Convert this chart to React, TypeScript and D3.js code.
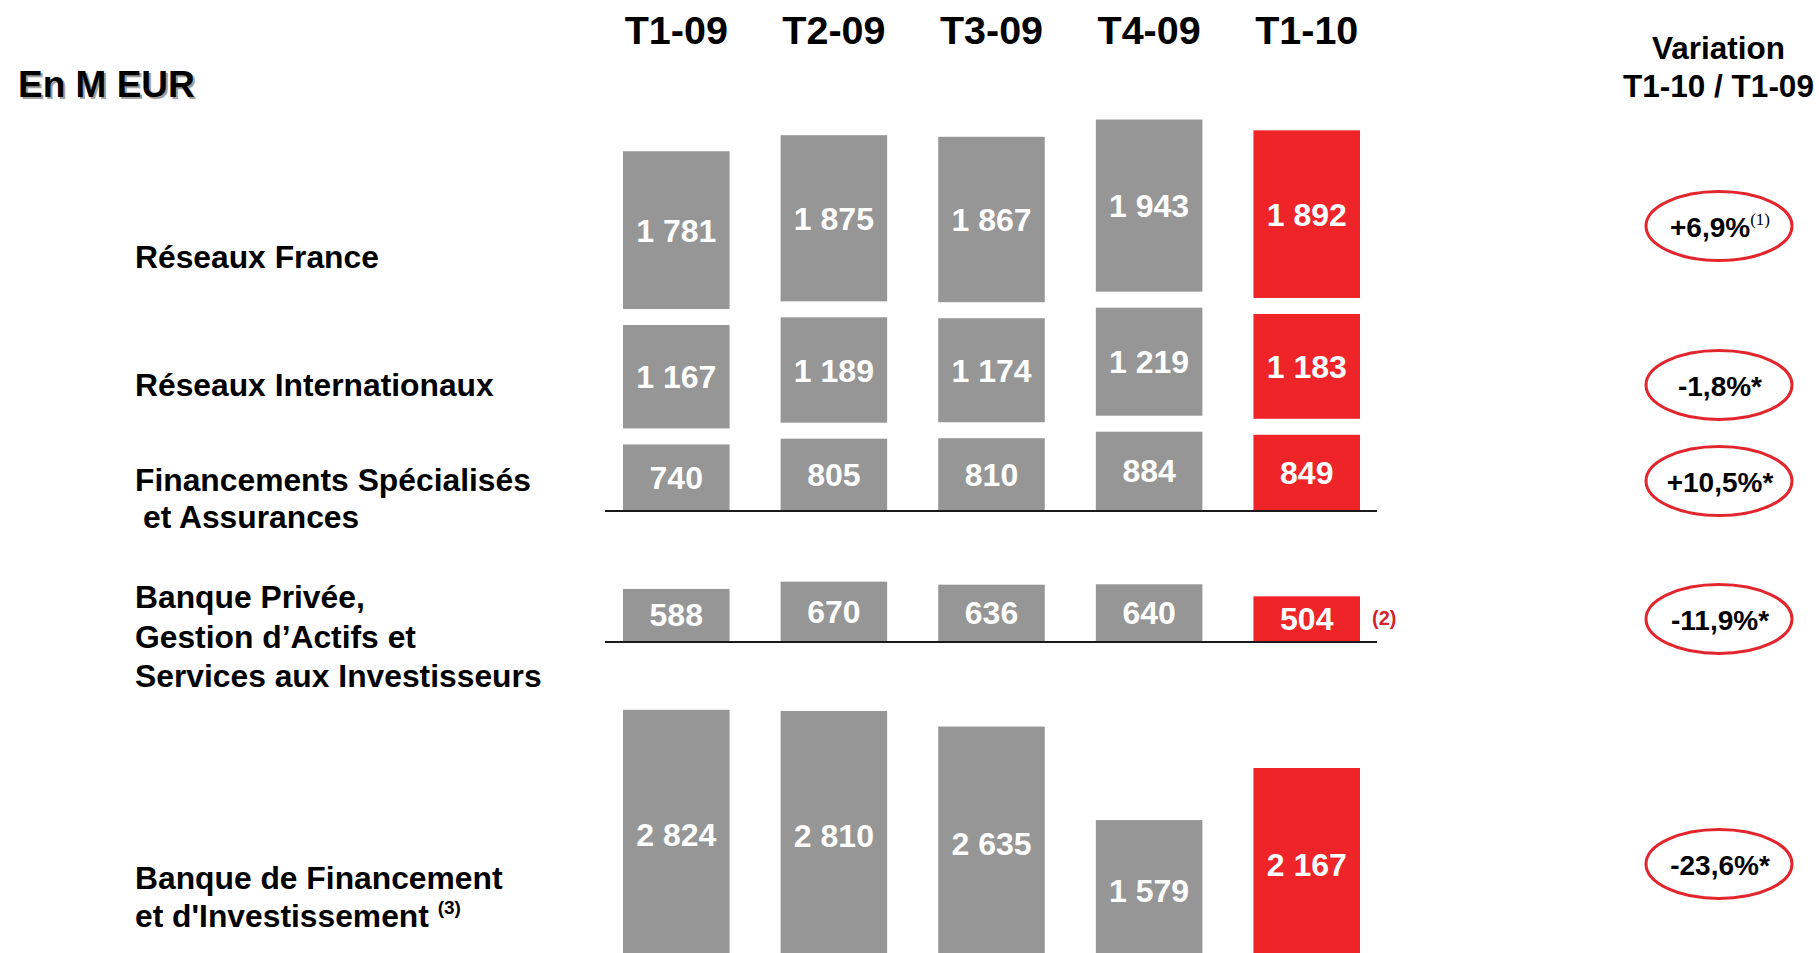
import React from "react";
import * as d3 from "d3";

const quarters = ["T1-09", "T2-09", "T3-09", "T4-09", "T1-10"];
const reseauxFrance = [1781, 1875, 1867, 1943, 1892];
const reseauxInternationaux = [1167, 1189, 1174, 1219, 1183];
const financementsSpecialises = [740, 805, 810, 884, 849];
const banquePrivee = [588, 670, 636, 640, 504];
const bfi = [2824, 2810, 2635, 1579, 2167];
const variations = ["+6,9%", "-1,8%*", "+10,5%*", "-11,9%*", "-23,6%*"];
const variationNotes = ["(1)", "", "", "", ""];

const W = 1819;
const H = 953;
const FONT = "'Liberation Sans', Arial, Helvetica, sans-serif";
const GRAY = "#969696";
const RED = "#ee2429";
const LABEL_FS = 31.8;

const fmt = (v: number) => {
  const s = String(v);
  return s.length > 3 ? s.slice(0, s.length - 3) + " " + s.slice(s.length - 3) : s;
};

export default function App() {
  const x = d3
    .scaleBand<string>()
    .domain(quarters)
    .range([623, 1360])
    .paddingInner(0.324)
    .paddingOuter(0);
  const h = d3.scaleLinear().domain([0, 1000]).range([0, 88.6]);
  const gap = 16;

  const base1 = 510;
  const base2 = 641;
  const base3 = 960;

  type Seg = { q: string; i: number; v: number; y0: number; y1: number };
  const segs: Seg[] = [];
  quarters.forEach((q, i) => {
    const fTop = base1 - h(financementsSpecialises[i]);
    segs.push({ q, i, v: financementsSpecialises[i], y0: fTop, y1: base1 });
    const riBot = fTop - gap;
    const riTop = riBot - h(reseauxInternationaux[i]);
    segs.push({ q, i, v: reseauxInternationaux[i], y0: riTop, y1: riBot });
    const rfBot = riTop - gap;
    const rfTop = rfBot - h(reseauxFrance[i]);
    segs.push({ q, i, v: reseauxFrance[i], y0: rfTop, y1: rfBot });
    segs.push({ q, i, v: banquePrivee[i], y0: base2 - h(banquePrivee[i]), y1: base2 });
    segs.push({ q, i, v: bfi[i], y0: base3 - h(bfi[i]), y1: base3 });
  });

  const ellipseCY = [226, 385, 481, 619, 864];
  const ecx = 1719;

  return (
    <svg
      width={W}
      height={H}
      style={{ position: "absolute", left: 0, top: 0, display: "block", background: "#fff" }}
      fontFamily={FONT}
      fontWeight="bold"
    >
      <rect x={0} y={0} width={W} height={H} fill="#fff" />

      {/* En M EUR with shadow */}
      <text x={20} y={98.5} fontSize={37} fill="#a0a0a0">En M EUR</text>
      <text x={18} y={96.5} fontSize={37} fill="#000">En M EUR</text>

      {/* column headers */}
      {quarters.map((q) => (
        <text key={q} x={(x(q) as number) + x.bandwidth() / 2} y={44} fontSize={39.5} textAnchor="middle" fill="#000">
          {q}
        </text>
      ))}

      {/* Variation header */}
      <text x={1718.5} y={59} fontSize={31.5} textAnchor="middle" fill="#000">Variation</text>
      <text x={1718.5} y={97} fontSize={31.5} textAnchor="middle" fill="#000">T1-10 / T1-09</text>

      {/* row labels */}
      <text x={135} y={268} fontSize={LABEL_FS} fill="#000">Réseaux France</text>
      <text x={135} y={396} fontSize={LABEL_FS} fill="#000">Réseaux Internationaux</text>
      <text x={135} y={491} fontSize={LABEL_FS} fill="#000">Financements Spécialisés</text>
      <text x={143} y={528} fontSize={LABEL_FS} fill="#000">et Assurances</text>
      <text x={135} y={608} fontSize={LABEL_FS} fill="#000">Banque Privée,</text>
      <text x={135} y={648} fontSize={LABEL_FS} fill="#000">Gestion d’Actifs et</text>
      <text x={135} y={687} fontSize={LABEL_FS} fill="#000">Services aux Investisseurs</text>
      <text x={135} y={889} fontSize={LABEL_FS} fill="#000">Banque de Financement</text>
      <text x={135} y={927} fontSize={LABEL_FS} fill="#000">
        et d'Investissement{" "}
        <tspan fontSize={19} dy={-13}>(3)</tspan>
      </text>

      {/* bars */}
      {segs.map((s, k) => (
        <g key={k}>
          <rect
            x={x(s.q) as number}
            y={s.y0}
            width={x.bandwidth()}
            height={s.y1 - s.y0}
            fill={s.i === quarters.length - 1 ? RED : GRAY}
          />
          <text
            x={(x(s.q) as number) + x.bandwidth() / 2}
            y={(s.y0 + s.y1) / 2}
            dy="0.36em"
            fontSize={32}
            textAnchor="middle"
            fill="#fff"
          >
            {fmt(s.v)}
          </text>
        </g>
      ))}

      {/* baselines */}
      <line x1={605} x2={1377} y1={base1 + 1} y2={base1 + 1} stroke="#1a1a1a" strokeWidth={2} />
      <line x1={605} x2={1377} y1={base2 + 1} y2={base2 + 1} stroke="#1a1a1a" strokeWidth={2} />

      {/* note (2) */}
      <text x={1372} y={625} fontSize={20} fill="#d2232a">(2)</text>

      {/* variation ellipses */}
      {variations.map((v, i) => (
        <g key={v}>
          <ellipse cx={ecx} cy={ellipseCY[i]} rx={73} ry={34.5} fill="none" stroke="#e3262d" strokeWidth={3} />
          <text x={ecx + 1} y={ellipseCY[i] + 11} fontSize={28} textAnchor="middle" fill="#000">
            {v}
            {variationNotes[i] ? (
              <tspan fontFamily="'Liberation Serif', 'Times New Roman', serif" fontWeight="normal" fontSize={17} dy={-12}>
                {variationNotes[i]}
              </tspan>
            ) : null}
          </text>
        </g>
      ))}
    </svg>
  );
}
